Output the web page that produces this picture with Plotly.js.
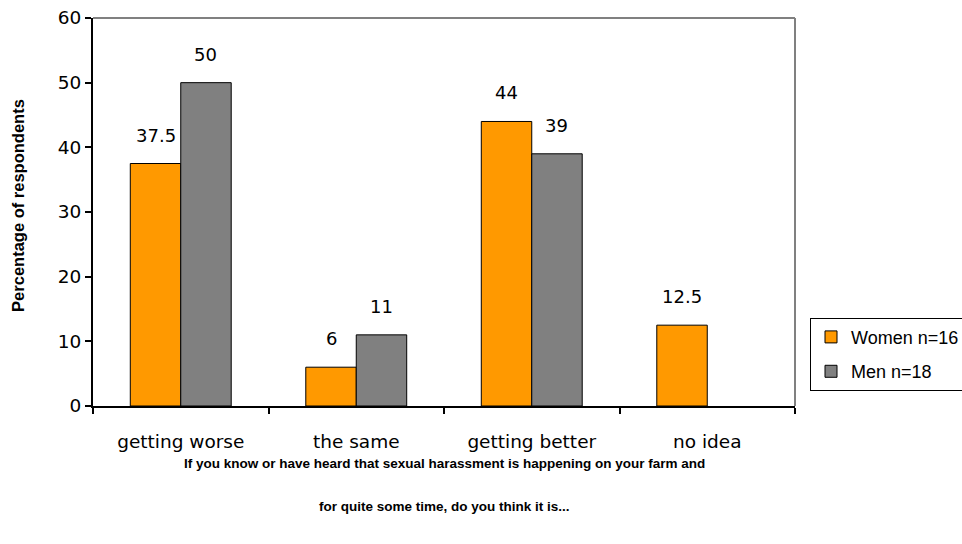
<!DOCTYPE html>
<html>
<head>
<meta charset="utf-8">
<script src="https://cdn.plot.ly/plotly-3.0.1.min.js"></script>
<style>
  html, body { margin: 0; padding: 0; background: #fff; }
  #chart { width: 962px; height: 544px; }
</style>
</head>
<body>
<div id="chart"></div>
<script>
// Survey answers by group
const categories = ["getting worse", "the same", "getting better", "no idea"];
const women = [37.5, 6, 44, 12.5];
const men = [50, 11, 39, null];
const seriesNames = ["Women n=16", "Men n=18"];
const yTicks = [0, 10, 20, 30, 40, 50, 60];
const yTitle = "Percentage of respondents";
const xTitleLines = [
  "If you know or have heard that sexual harassment is happening on your farm and",
  "for quite some time, do you think it is..."
];

const FONT = "DejaVu Sans, Verdana, sans-serif";
const NARROW_FONT = "Liberation Sans, Arial, sans-serif";
const ORANGE = "#FF9900";
const GREY = "#808080";

const traces = [
  {
    type: "bar", name: seriesNames[0], x: categories, y: women,
    legendgroup: "w",
    marker: { color: ORANGE, line: { color: "#000", width: 1 } }
  },
  {
    type: "bar", name: seriesNames[1], x: categories, y: men,
    legendgroup: "m",
    marker: { color: GREY, line: { color: "#000", width: 1 } }
  }
];

// value labels above each bar
const annotations = [];
[women, men].forEach((vals, si) => {
  vals.forEach((v, i) => {
    if (v === null) return;
    annotations.push({
      xref: "x", yref: "y", x: categories[i], y: v,
      text: String(v), showarrow: false,
      xanchor: "center", yanchor: "bottom",
      xshift: si === 0 ? -25 : 25, yshift: 16,
      font: { family: FONT, size: 18, color: "#000" }
    });
  });
});
// two-line axis caption under the categories
xTitleLines.forEach((t, i) => {
  annotations.push({
    xref: "paper", yref: "paper", x: 0.5, y: i === 0 ? -0.147 : -0.26,
    text: "<b>" + t + "</b>", showarrow: false,
    xanchor: "center", yanchor: "middle",
    font: { family: NARROW_FONT, size: 13.5, color: "#000" }
  });
});
// vertical axis caption
annotations.push({
  xref: "paper", yref: "paper", x: -0.107, y: 0.518,
  text: "<b>" + yTitle + "</b>", showarrow: false, textangle: -90,
  xanchor: "center", yanchor: "middle",
  font: { family: NARROW_FONT, size: 16.5, color: "#000" }
});

const layout = {
  width: 962, height: 544,
  margin: { l: 93, r: 167, t: 18, b: 138 },
  paper_bgcolor: "#fff", plot_bgcolor: "#fff",
  font: { family: FONT, size: 18, color: "#000" },
  barmode: "group", bargap: 0.425, bargroupgap: 0,
  showlegend: true,
  legend: {
    xref: "container", yref: "container",
    x: 0.842, xanchor: "left", y: 0.416, yanchor: "top",
    bordercolor: "#000", borderwidth: 1, bgcolor: "#fff",
    font: { family: NARROW_FONT, size: 18, color: "#000" },
    traceorder: "grouped", tracegroupgap: 8, itemwidth: 30
  },
  xaxis: {
    type: "category", showgrid: false, zeroline: false,
    showline: true, linecolor: "#000", linewidth: 2,
    ticks: "outside", tickson: "boundaries", ticklen: 6, tickwidth: 2, tickcolor: "#000",
    ticklabelstandoff: 18,
    tickfont: { family: FONT, size: 18.5, color: "#000" }
  },
  yaxis: {
    range: [0, 60], tickvals: yTicks, showgrid: false, zeroline: false,
    showline: true, linecolor: "#000", linewidth: 2,
    ticks: "outside", ticklen: 6, tickwidth: 2, tickcolor: "#000",
    tickfont: { family: FONT, size: 18.5, color: "#000" }
  },
  shapes: [
    { type: "line", xref: "paper", yref: "paper", x0: 0, x1: 1, y0: 1, y1: 1,
      line: { color: GREY, width: 2 } },
    { type: "line", xref: "paper", yref: "paper", x0: 1, x1: 1, y0: 0, y1: 1,
      line: { color: GREY, width: 2 } }
  ],
  annotations: annotations
};

Plotly.newPlot("chart", traces, layout, { displayModeBar: false, staticPlot: true });
</script>
</body>
</html>
